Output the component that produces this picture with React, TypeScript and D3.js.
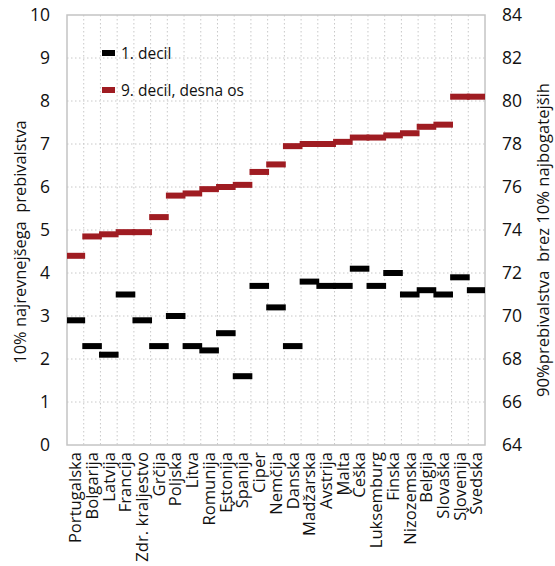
import React from "react";
import * as d3 from "d3";

const categories = [
  "Portugalska", "Bolgarija", "Latvija", "Francija", "Zdr. kraljestvo", "Grčija",
  "Poljska", "Litva", "Romunija", "Estonija", "Španija", "Ciper", "Nemčija",
  "Danska", "Madžarska", "Avstrija", "Malta", "Češka", "Luksemburg", "Finska",
  "Nizozemska", "Belgija", "Slovaška", "Slovenija", "Švedska",
];
const decile1 = [
  2.9, 2.3, 2.1, 3.5, 2.9, 2.3, 3.0, 2.3, 2.2, 2.6, 1.6, 3.7, 3.2,
  2.3, 3.8, 3.7, 3.7, 4.1, 3.7, 4.0, 3.5, 3.6, 3.5, 3.9, 3.6,
];
const decile9 = [
  72.8, 73.7, 73.8, 73.9, 73.9, 74.6, 75.6, 75.7, 75.9, 76.0, 76.1, 76.7, 77.05,
  77.9, 78.0, 78.0, 78.1, 78.3, 78.3, 78.4, 78.5, 78.8, 78.9, 80.2, 80.2,
];
const leftTicks = [0, 1, 2, 3, 4, 5, 6, 7, 8, 9, 10];
const rightTicks = [64, 66, 68, 70, 72, 74, 76, 78, 80, 82, 84];
const seriesNames = ["1. decil", "9. decil, desna os"];
const leftTitle = "10% najrevnejšega  prebivalstva";
const rightTitle = "90%prebivalstva  brez 10% najbogatejših";

const W = 555, H = 566;
const M = { left: 67, right: 485, top: 15, bottom: 445 };
const FONT = "'Open Sans', 'Noto Sans', sans-serif";
const RED = "#9f1c22";
const TXT = "#111";

export default function App() {
  const x = d3.scaleBand<string>().domain(categories).range([M.left, M.right]);
  const yL = d3.scaleLinear().domain([0, 10]).range([M.bottom, M.top]);
  const yR = d3.scaleLinear().domain([64, 84]).range([M.bottom, M.top]);
  const bw = x.bandwidth() * 1.17;
  const bh = 6;
  const cx = (c: string) => (x(c) as number) + x.bandwidth() / 2;

  return (
    <svg width={W} height={H} style={{ position: "absolute", left: 0, top: 0, background: "#fff" }} fontFamily={FONT}>
      <defs>
        <clipPath id="plot">
          <rect x={M.left} y={M.top} width={M.right - M.left} height={M.bottom - M.top} />
        </clipPath>
      </defs>
      {/* grid */}
      {categories.slice(1).map((c) => (
        <line key={"v" + c} x1={x(c)} x2={x(c)} y1={M.top} y2={M.bottom}
          stroke="#c8c8c8" strokeWidth={1} strokeDasharray="1.5,2.5" />
      ))}
      {leftTicks.slice(1, -1).map((t) => (
        <line key={"h" + t} x1={M.left} x2={M.right} y1={yL(t)} y2={yL(t)}
          stroke="#c8c8c8" strokeWidth={1} strokeDasharray="1.5,2.5" />
      ))}
      <rect x={M.left} y={M.top} width={M.right - M.left} height={M.bottom - M.top}
        fill="none" stroke="#c4c4c4" strokeWidth={1.5} />
      {/* bars */}
      <g clipPath="url(#plot)">
        {categories.map((c, i) => (
          <rect key={"b1" + c} x={cx(c) - bw / 2} y={yL(decile1[i]) - bh / 2} width={bw} height={bh} fill="#000" />
        ))}
        {categories.map((c, i) => (
          <rect key={"b9" + c} x={cx(c) - bw / 2} y={yR(decile9[i]) - bh / 2} width={bw} height={bh} fill={RED} />
        ))}
      </g>
      {/* left ticks */}
      {leftTicks.map((t) => (
        <text key={"lt" + t} x={M.left - 17} y={yL(t)} dy="0.36em" textAnchor="end" fontSize={17.5} fill={TXT}>{t}</text>
      ))}
      {rightTicks.map((t) => (
        <text key={"rt" + t} x={M.right + 17} y={yR(t)} dy="0.36em" textAnchor="start" fontSize={17.5} fill={TXT}>{t}</text>
      ))}
      {/* category labels */}
      {categories.map((c) => (
        <text key={"cl" + c} transform={`translate(${cx(c)},${M.bottom + 7}) rotate(-90)`} dy="0.35em"
          textAnchor="end" fontSize={16.6} fill={TXT}>{c}</text>
      ))}
      {/* axis titles */}
      <text transform={`translate(20,242) rotate(-90)`} dy="0.35em" textAnchor="middle" fontSize={16.4}
        fill={TXT} style={{ whiteSpace: "pre" }}>{leftTitle}</text>
      <text transform={`translate(544,240) rotate(-90)`} dy="0.32em" textAnchor="middle" fontSize={16.6}
        fill={TXT} style={{ whiteSpace: "pre" }}>{rightTitle}</text>
      {/* legend */}
      <rect x={102} y={53 - bh / 2} width={13} height={bh} fill="#000" />
      <text x={121} y={53} dy="0.36em" fontSize={15.5} fill={TXT}>{seriesNames[0]}</text>
      <rect x={102} y={90 - bh / 2} width={13} height={bh} fill={RED} />
      <text x={121} y={90} dy="0.36em" fontSize={15.5} fill={TXT}>{seriesNames[1]}</text>
    </svg>
  );
}
